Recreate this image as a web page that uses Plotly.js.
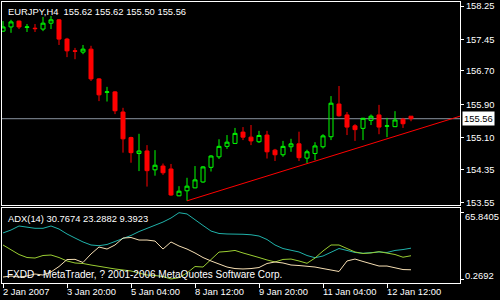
<!DOCTYPE html>
<html><head><meta charset="utf-8">
<script src="https://cdn.plot.ly/plotly-3.0.1.min.js"></script>
<style>html,body{margin:0;padding:0;background:#000;}#chart{width:500px;height:300px;}</style>
</head><body><div id="chart"></div>
<script>
// ---- data ----
const symbol = 'EURJPY,H4';
const barIndex = [0,1,2,3,4,5,6,7,8,9,10,11,12,13,14,15,16,17,18,19,20,21,22,23,24,25,26,27,28,29,30,31,32,33,34,35,36,37,38,39,40,41,42,43,44,45,46,47,48,49,50,51];
const openP  = [157.65,157.75,157.89,157.74,157.72,157.70,157.84,157.92,157.46,157.18,157.15,157.22,156.51,156.19,156.20,155.72,155.11,154.73,154.79,154.34,154.43,154.36,153.72,153.84,153.91,154.05,154.40,154.65,154.90,154.97,155.24,155.12,155.01,155.17,154.81,154.70,154.89,154.96,154.62,154.73,154.89,155.13,155.91,155.65,155.39,155.33,155.52,155.65,155.38,155.37,155.55,155.62];
const highP  = [157.89,157.92,157.90,157.82,157.82,157.99,158.01,157.94,157.49,157.25,157.32,157.30,156.53,156.32,156.22,155.82,155.13,155.20,154.93,154.81,154.49,154.48,153.95,154.15,154.43,154.43,154.69,155.07,155.17,155.34,155.36,155.41,155.27,155.27,154.84,155.03,155.08,155.25,154.82,155.00,155.19,156.10,156.34,155.72,155.43,155.58,155.66,155.89,155.58,155.74,155.58,155.62];
const lowP   = [157.63,157.61,157.70,157.63,157.63,157.65,157.70,157.32,157.03,156.98,157.10,156.46,155.98,155.97,155.67,154.75,154.51,154.31,153.94,154.20,154.22,153.72,153.71,153.60,153.90,154.03,154.30,154.60,154.84,154.96,155.05,154.93,154.98,154.61,154.55,154.65,154.77,154.55,154.50,154.57,154.85,155.05,155.61,155.17,155.03,155.05,155.41,155.19,155.12,155.36,155.34,155.50];
const closeP = [157.75,157.87,157.75,157.75,157.71,157.84,157.92,157.46,157.18,157.17,157.22,156.51,156.13,156.20,155.75,155.08,154.75,154.79,154.32,154.45,154.27,153.74,153.83,153.95,154.10,154.41,154.67,154.90,155.00,155.21,155.12,155.03,155.16,154.77,154.70,154.90,154.96,154.63,154.77,154.91,155.15,155.93,155.63,155.36,155.30,155.57,155.62,155.36,155.39,155.53,155.44,155.56];

const adxMain = [45.8,48.7,52.7,51.7,50.4,50.4,52.7,49.7,44.8,40.8,36.9,33.9,33.2,34.4,37.4,40.8,43.3,47.2,50.2,53.2,56.6,60.6,65.8405,64.6,58.6,53.2,47.7,45.3,44.8,44.8,44.5,44.0,42.8,39.3,33.9,30.4,28.9,27.0,23.5,21.3,23.0,26.5,30.4,28.5,26.5,25.7,26.5,27.0,26.5,28.5,29.4,30.7674];
const plusDI  = [33.9,28.9,24.5,21.5,21.0,23.5,24.0,21.5,18.1,16.1,15.6,14.1,12.6,11.6,10.2,9.2,8.2,6.2,4.2,3.7,2.7,0.2692,1.6,6.2,12.6,12.1,20.0,26.9,27.5,28.5,26.0,24.0,21.5,19.1,17.1,19.6,20.0,18.1,15.8,21.0,28.0,33.9,33.9,30.4,27.0,25.5,26.0,27.3,26.0,24.5,21.8,23.2882];
const minusDI = [2.2,3.2,2.2,3.2,5.2,4.2,7.2,12.6,19.5,19.7,16.6,25.0,31.9,29.9,33.9,40.8,41.3,38.8,38.8,37.8,29.9,36.9,32.9,29.9,26.0,21.5,18.1,15.1,12.1,10.6,10.2,10.6,11.6,15.6,17.1,16.1,14.1,13.6,13.1,12.1,10.6,9.2,7.7,18.1,20.0,17.6,15.1,13.1,13.1,11.6,9.6,9.3923];

const trendX = [23, 57.125];
const trendY = [153.60, 155.62];
const bidPrice = 155.56;

const priceTicks = [158.25,157.45,156.70,155.90,155.10,154.35,153.55];
const priceTickText = ['158.25','157.45','156.70','155.90','155.10','154.35','153.55'];
const adxScaleTicks = [65.8405, 0.2692];
const adxScaleText = ['65.8405','0.2692'];
const timeTickIdx = [0,8,16,24,32,40,48];
const timeTickText = ['2 Jan 2007','3 Jan 20:00','5 Jan 04:00','8 Jan 12:00','9 Jan 20:00','11 Jan 04:00','12 Jan 12:00'];
const copyright = 'FXDD - MetaTrader, ? 2001-2006 MetaQuotes Software Corp.';

// ---- chart ----
const FONT = 'Liberation Sans, Arial, sans-serif';
const last = closeP.length - 1;
const headerText = symbol + '\u00a0 ' + [openP[last],highP[last],lowP[last],closeP[last]].map(v=>v.toFixed(2)).join(' ');
const adxText = 'ADX(14) ' + adxMain[last].toFixed(4) + ' ' + plusDI[last].toFixed(4) + ' ' + minusDI[last].toFixed(4);

const traces = [
  {type:'candlestick', x:barIndex, open:openP, high:highP, low:lowP, close:closeP,
   xaxis:'x2', yaxis:'y', whiskerwidth:0, hoverinfo:'skip',
   increasing:{line:{color:'#00ff00', width:1}, fillcolor:'rgba(0,0,0,0)'},
   decreasing:{line:{color:'#ff0000', width:1}, fillcolor:'#ff0000'}},
  {type:'scatter', mode:'lines', x:trendX, y:trendY, xaxis:'x2', yaxis:'y',
   line:{color:'#ff0000', width:1}, hoverinfo:'skip'},
  {type:'scatter', mode:'lines', x:barIndex, y:adxMain, xaxis:'x', yaxis:'y2', line:{color:'#20b2aa', width:1}, hoverinfo:'skip'},
  {type:'scatter', mode:'lines', x:barIndex, y:plusDI, xaxis:'x', yaxis:'y2', line:{color:'#9acd32', width:1}, hoverinfo:'skip'},
  {type:'scatter', mode:'lines', x:barIndex, y:minusDI, xaxis:'x', yaxis:'y2', line:{color:'#f5deb3', width:1}, hoverinfo:'skip'}
];

const xRange = [-0.125, 57.125];
const annotations = [
  {xref:'paper', yref:'paper', x:0, y:1, xanchor:'left', yanchor:'top', xshift:4, yshift:-2,
   text:headerText, showarrow:false, font:{family:FONT, size:9.4, color:'#fff'}},
  {xref:'paper', yref:'paper', x:0, y:0.2669, xanchor:'left', yanchor:'top', xshift:4, yshift:-3,
   text:adxText, showarrow:false, font:{family:FONT, size:9.4, color:'#fff'}},
  {xref:'paper', yref:'paper', x:0, y:0, xanchor:'left', yanchor:'bottom', xshift:3, yshift:1,
   text:copyright, showarrow:false, font:{family:FONT, size:10, color:'#fff'}},
  {xref:'paper', yref:'y', x:1, y:bidPrice, xanchor:'left', yanchor:'middle', xshift:2,
   text:bidPrice.toFixed(2), showarrow:false, bgcolor:'#ffffff', borderpad:1, font:{family:FONT, size:9.4, color:'#000'}},
  {xref:'paper', yref:'paper', x:1, y:0.2384, xanchor:'left', yanchor:'middle', xshift:3,
   text:adxScaleText[0], showarrow:false, font:{family:FONT, size:9.4, color:'#fff'}},
  {xref:'paper', yref:'paper', x:1, y:0.0267, xanchor:'left', yanchor:'middle', xshift:3,
   text:adxScaleText[1], showarrow:false, font:{family:FONT, size:9.4, color:'#fff'}}
];
timeTickIdx.forEach((t,k)=>{
  annotations.push({xref:'x', yref:'paper', x:t, y:0, xanchor:'left', yanchor:'top', xshift:-2, yshift:-1,
    text:timeTickText[k], showarrow:false, font:{family:FONT, size:9.4, color:'#fff'}});
});

const layout = {
  width:500, height:300,
  paper_bgcolor:'#000', plot_bgcolor:'#000',
  margin:{l:2, r:40, t:2, b:17, pad:0},
  showlegend:false,
  boxgap:0.5, boxgroupgap:0,
  font:{family:FONT, size:9, color:'#fff'},
  xaxis:{domain:[0,1], anchor:'y2', range:xRange, showgrid:false, zeroline:false,
    showline:true, linecolor:'#fff', linewidth:1, mirror:true,
    ticks:'outside', ticklen:4, tickcolor:'#fff', tickvals:timeTickIdx, showticklabels:false,
    rangeslider:{visible:false}},
  xaxis2:{domain:[0,1], anchor:'y', range:xRange, showgrid:false, zeroline:false,
    showline:true, linecolor:'#fff', linewidth:1, mirror:true, showticklabels:false, ticks:'',
    rangeslider:{visible:false}},
  yaxis:{domain:[0.27758,1], anchor:'x2', range:[153.5006,158.3455], side:'right',
    showgrid:false, zeroline:false, showline:true, linecolor:'#fff', linewidth:1, mirror:true,
    ticks:'outside', ticklen:3, tickcolor:'#fff', tickvals:priceTicks, ticktext:priceTickText,
    tickfont:{family:FONT, size:9.4, color:'#fff'}},
  yaxis2:{domain:[0,0.2669], anchor:'x', range:[-3.69,70.49], side:'right',
    showgrid:false, zeroline:false, showline:true, linecolor:'#fff', linewidth:1, mirror:true,
    ticks:'outside', ticklen:3, tickcolor:'#fff', tickvals:adxScaleTicks, showticklabels:false},
  shapes:[
    {type:'line', xref:'paper', x0:0, x1:1, yref:'y', y0:bidPrice, y1:bidPrice, layer:'below',
     line:{color:'#8a94a0', width:1}}
  ],
  annotations:annotations
};

Plotly.newPlot('chart', traces, layout, {displayModeBar:false, staticPlot:true});
</script>
</body></html>
